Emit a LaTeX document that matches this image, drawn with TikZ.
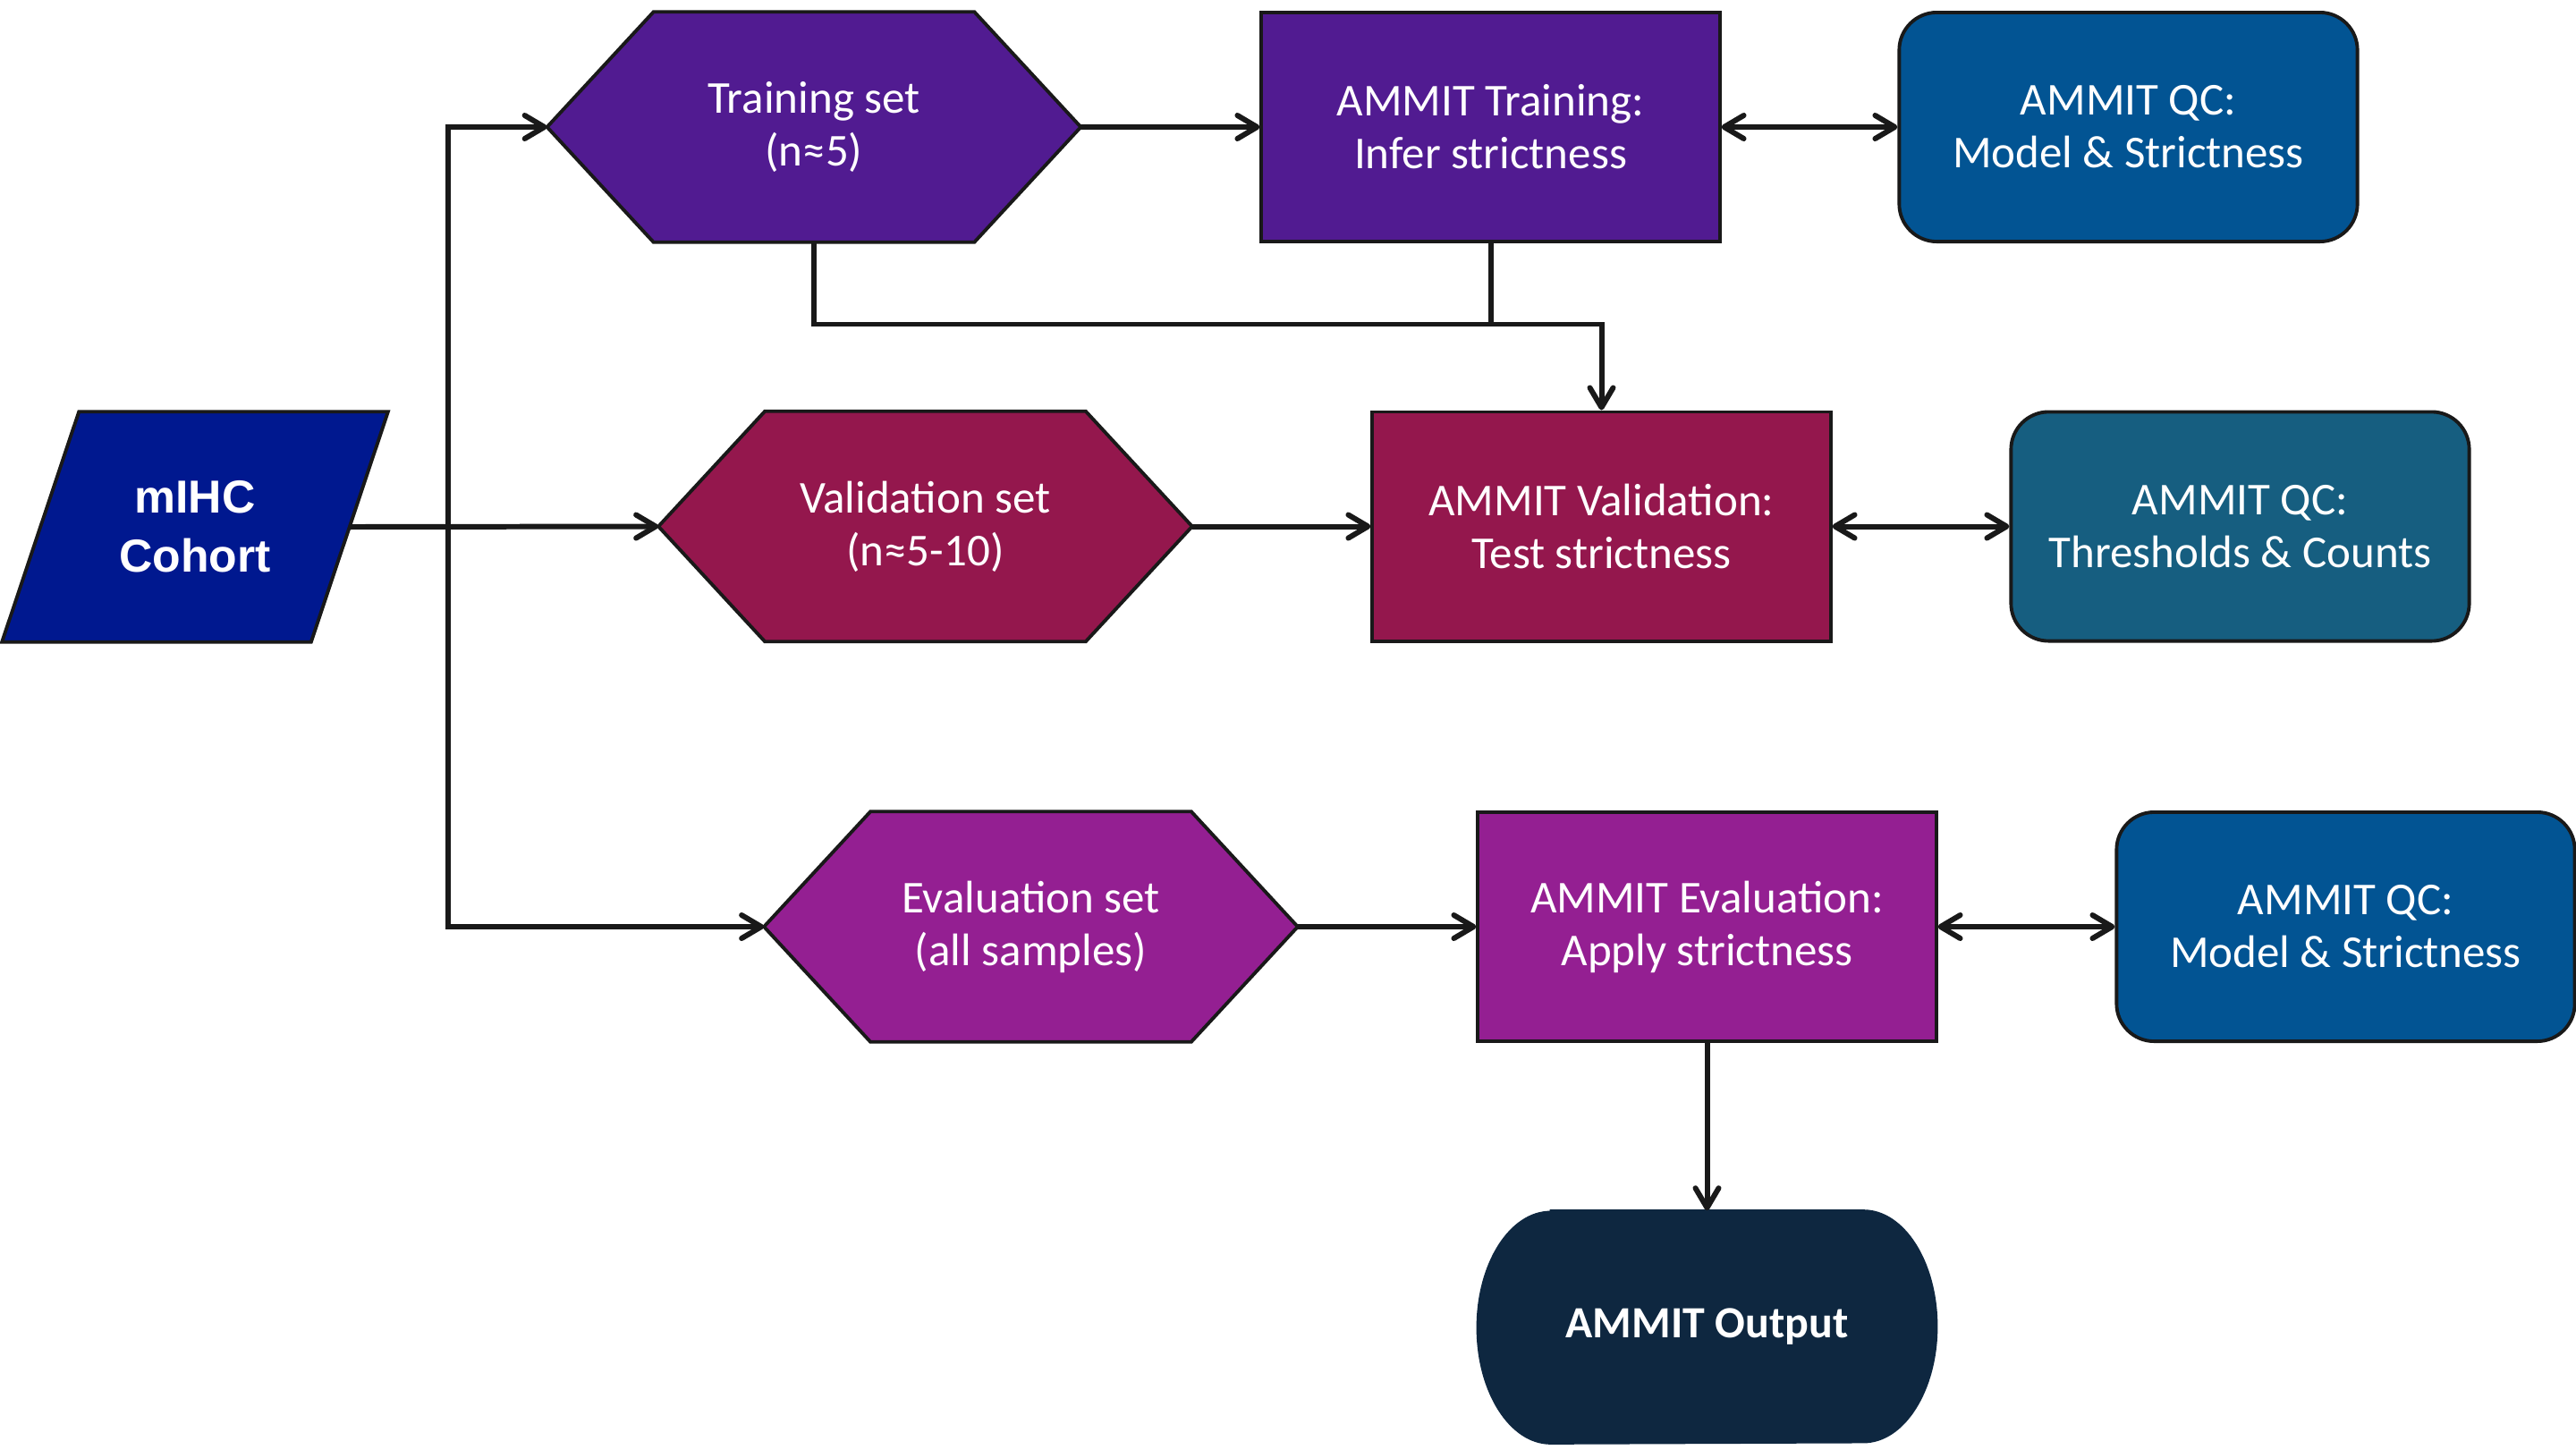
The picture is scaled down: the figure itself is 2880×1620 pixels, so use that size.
\documentclass[tikz,border=0pt]{standalone}
\usepackage{fontspec}
\setmainfont{Carlito}
\newfontfamily\cohortfont{Liberation Sans}
\usetikzlibrary{arrows.meta,backgrounds,calc}
\definecolor{cTrain}{RGB}{81,27,145}
\definecolor{cVal}{RGB}{148,23,77}
\definecolor{cEval}{RGB}{148,31,146}
\definecolor{cQC}{RGB}{2,84,147}
\definecolor{cQCt}{RGB}{22,94,128}
\definecolor{cCohort}{RGB}{0,24,143}
\definecolor{cOut}{RGB}{14,39,64}
\definecolor{cLine}{RGB}{25,25,25}
\begin{document}
\begin{tikzpicture}[x=0.01cm,y=-0.01cm,
  txt/.style={text=white, align=center, font=\fontsize{14.5}{16.8}\selectfont, inner sep=0pt},
  boxsize/.style={minimum width=5.12cm, minimum height=2.56cm},
  rectbox/.style={txt, boxsize, draw=cLine, line width=1.1pt, fill=#1},
  qcbox/.style={rectbox=#1, rounded corners=0.42cm},
  hexnode/.style={txt, minimum width=5.95cm, minimum height=2.56cm},
  shapefill/.style={draw=cLine, line width=1.1pt, fill=#1},
  conn/.style={draw=cLine, line width=1.7pt},
  arr/.style={conn, -{Straight Barb[length=0.22cm,width=0.26cm,round]}},
  darr/.style={conn, {Straight Barb[length=0.22cm,width=0.26cm,round]}-{Straight Barb[length=0.22cm,width=0.26cm,round]}},
]
\useasboundingbox (0,0) rectangle (2880,1620);

% nodes
\node[txt, minimum width=4.30cm, minimum height=2.56cm,
      font=\cohortfont\bfseries\fontsize{14.7}{18.8}\selectfont] (coh) at (218,589) {mIHC\\Cohort};

\node[hexnode] (trh) at (910,142) {Training set\\(n≈5)};
\node[rectbox=cTrain] (trr) at (1666.5,142) {AMMIT Training:\\Infer strictness};
\node[qcbox=cQC] (qc1) at (2379.5,142) {AMMIT QC:\\Model \& Strictness};

\node[hexnode] (vah) at (1034.5,588.5) {Validation set\\(n≈5-10)};
\node[rectbox=cVal] (var) at (1790.5,588.5) {AMMIT Validation:\\Test strictness};
\node[qcbox=cQCt] (qc2) at (2504.5,588.5) {AMMIT QC:\\Thresholds \& Counts};

\node[hexnode] (evh) at (1152.5,1036) {Evaluation set\\(all samples)};
\node[rectbox=cEval] (evr) at (1908.5,1036) {AMMIT Evaluation:\\Apply strictness};
\node[qcbox=cQC] (qc3) at (2622.5,1036) {AMMIT QC:\\Model \& Strictness};

\node[txt, boxsize, minimum height=2.59cm, font=\bfseries\fontsize{14.2}{16.8}\selectfont] (out) at (1908.5,1483.5) {AMMIT Output};

% shapes behind the text
\begin{scope}[on background layer]
  \path[shapefill=cCohort] ([xshift=0.86cm]coh.north west) -- (coh.north east)
    -- ([xshift=-0.86cm]coh.south east) -- (coh.south west) -- cycle;
  \path[shapefill=cTrain] (trh.west) -- ([xshift=1.19cm]trh.north west) -- ([xshift=-1.19cm]trh.north east)
    -- (trh.east) -- ([xshift=-1.19cm]trh.south east) -- ([xshift=1.19cm]trh.south west) -- cycle;
  \path[shapefill=cVal] (vah.west) -- ([xshift=1.19cm]vah.north west) -- ([xshift=-1.19cm]vah.north east)
    -- (vah.east) -- ([xshift=-1.19cm]vah.south east) -- ([xshift=1.19cm]vah.south west) -- cycle;
  \path[shapefill=cEval] (evh.west) -- ([xshift=1.19cm]evh.north west) -- ([xshift=-1.19cm]evh.north east)
    -- (evh.east) -- ([xshift=-1.19cm]evh.south east) -- ([xshift=1.19cm]evh.south west) -- cycle;
  \path[fill=cOut, draw=cOut, line width=0.6pt] ([xshift=0.82cm]out.north west) -- ([xshift=-0.82cm]out.north east)
    arc[start angle=90, end angle=-90, x radius=0.82cm, y radius=1.295cm]
    -- ([xshift=0.82cm]out.south west)
    arc[start angle=270, end angle=90, x radius=0.82cm, y radius=1.295cm] -- cycle;
\end{scope}

% connectors
\coordinate (cohE) at ([xshift=-0.43cm]coh.east);
\coordinate (trunk) at (501,588);
\coordinate (jn) at ($(var.north)+(0,-96)$);

\draw[arr] (cohE) -- (vah.west);
\draw[arr] (trunk) -- (trunk |- trh.west) -- (trh.west);
\draw[arr] (trunk) -- (trunk |- evh.west) -- (evh.west);

\draw[arr] (trh.east) -- (trr.west);
\draw[darr] (trr.east) -- (qc1.west);
\draw[arr] (trh.south) |- (jn) -- (var.north);
\draw[conn] (trr.south) -- (trr.south |- jn);

\draw[arr] (vah.east) -- (var.west);
\draw[darr] (var.east) -- (qc2.west);

\draw[arr] (evh.east) -- (evr.west);
\draw[darr] (evr.east) -- (qc3.west);
\draw[arr] (evr.south) -- (out.north);
\end{tikzpicture}
\end{document}
